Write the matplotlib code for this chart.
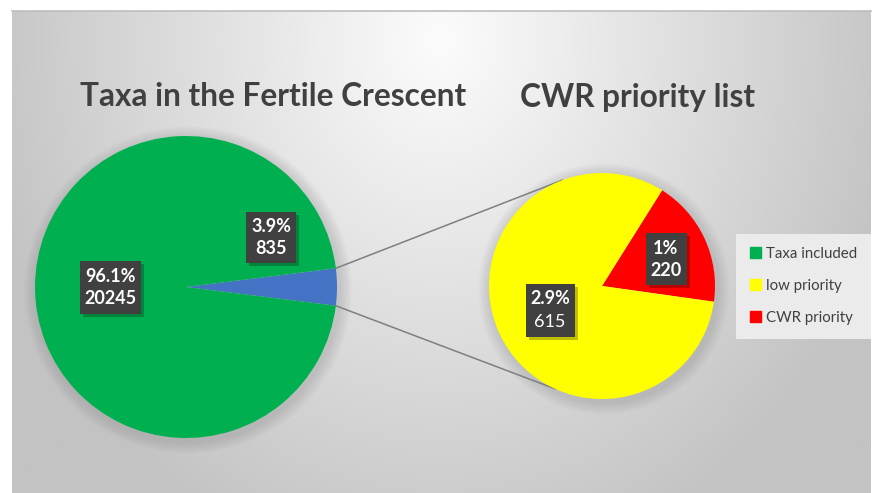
import numpy as np
import matplotlib.pyplot as plt
from matplotlib.patches import Rectangle, Circle, Patch

# data
main_labels = ["Taxa included", "CWR list"]
main_counts = [20245, 835]
main_pct = ["96.1%", "3.9%"]
sub_labels = ["CWR priority", "low priority"]
sub_counts = [220, 615]
sub_pct = ["1%", "2.9%"]
# share of the sub-pie each wedge takes, as drawn in the picture
sub_share = [18.3, 81.7]

legend_labels = ["Taxa included", "low priority", "CWR priority"]
titles = ["Taxa in the Fertile Crescent", "CWR priority list"]

GREEN, BLUE, YELLOW, RED = "#00B050", "#4472C4", "#FFFF00", "#FF0000"
TXT = "#404040"
W, H = 877, 493

plt.rcParams["font.family"] = ["Lato", "DejaVu Sans"]

fig = plt.figure(figsize=(W / 100, H / 100), dpi=100)
ax = fig.add_axes([0, 0, 1, 1])


def Y(y):
    return H - y


# background panel with a soft radial gradient
x0, x1, y0, y1 = 12, 871, 11, 493
xx, yy = np.meshgrid(np.linspace(x0, x1, 400), np.linspace(y0, y1, 250))
d = np.sqrt(((xx - 440) / 480) ** 2 + ((yy - 40) / 560) ** 2)
v = np.clip(252 - 58 * d, 195, 252) / 255
ax.imshow(np.dstack([v, v, v]), extent=(x0, x1, Y(y1), Y(y0)), origin="upper",
          aspect="auto", zorder=0)
ax.plot([x0, x1], [Y(y0), Y(y0)], color="#bdbdbd", lw=1.2, zorder=1)

# pies
c1, r1 = (186, Y(287)), 151
c2, r2 = (602, Y(286)), 113

for c, r in [(c1, r1), (c2, r2)]:
    for k in range(8):
        ax.add_patch(Circle((c[0] + 2, c[1] - 3), r + 2 + k * 1.5,
                            color="#808080", alpha=0.035, lw=0, zorder=1))

blue_ang = 360 * main_counts[1] / sum(main_counts)
ax.pie(main_counts[::-1], colors=[BLUE, GREEN], startangle=-blue_ang / 2,
       counterclock=True, center=c1, radius=r1, frame=True,
       wedgeprops=dict(linewidth=0, zorder=2))
ax.pie(sub_share, colors=[RED, YELLOW], startangle=-8, counterclock=True,
       center=c2, radius=r2, frame=True,
       wedgeprops=dict(linewidth=0, zorder=2))

# connector lines between the pies
for a1, a2 in [(blue_ang / 2, 110.5), (-blue_ang / 2, 245.5)]:
    p = (c1[0] + r1 * np.cos(np.radians(a1)), c1[1] + r1 * np.sin(np.radians(a1)))
    q = (c2[0] + r2 * np.cos(np.radians(a2)), c2[1] + r2 * np.sin(np.radians(a2)))
    ax.plot([p[0], q[0]], [p[1], q[1]], color="#7f7f7f", lw=1.1, zorder=1.5)


# data label boxes
def label_box(cx, cy, w, h, top, bottom, bottom_bold=True):
    ax.add_patch(Rectangle((cx - w / 2 + 3, Y(cy) - h / 2 - 3), w, h,
                           color="black", alpha=0.25, lw=0, zorder=3))
    ax.add_patch(Rectangle((cx - w / 2, Y(cy) - h / 2), w, h,
                           color=TXT, lw=0, zorder=4))
    ax.text(cx, Y(cy) + 11, top, color="white", fontsize=13,
            fontweight="bold", ha="center", va="center", zorder=5)
    ax.text(cx, Y(cy) - 12, bottom, color="white", fontsize=13,
            fontweight="bold" if bottom_bold else "normal",
            ha="center", va="center", zorder=5)


label_box(110, 287, 61, 53, main_pct[0], str(main_counts[0]))
label_box(271, 237, 50, 51, main_pct[1], str(main_counts[1]))
label_box(666, 259, 41, 52, sub_pct[0], str(sub_counts[0]))
label_box(550, 310, 49, 53, sub_pct[1], str(sub_counts[1]), bottom_bold=False)

# titles
ax.text(273, Y(97), titles[0], fontsize=22.8, fontweight="bold", color=TXT,
        ha="center", va="center")
ax.text(638, Y(97), titles[1], fontsize=22.8, fontweight="bold", color=TXT,
        ha="center", va="center")

# legend
handles = [Patch(color=GREEN), Patch(color=YELLOW), Patch(color=RED)]
leg = ax.legend(handles, legend_labels, loc="center left",
                bbox_to_anchor=(736 / W, 1 - 286 / H), fontsize=10.8,
                frameon=True, fancybox=False, facecolor="#ebebeb",
                edgecolor="none", framealpha=1, handlelength=0.75,
                handleheight=0.75, handletextpad=0.35, labelspacing=1.2,
                borderpad=0.9, borderaxespad=0)
for t in leg.get_texts():
    t.set_color(TXT)

ax.set_xlim(0, W)
ax.set_ylim(0, H)
ax.set_aspect("auto")
ax.axis("off")

fig.savefig("out.png", dpi=100, facecolor="white")
